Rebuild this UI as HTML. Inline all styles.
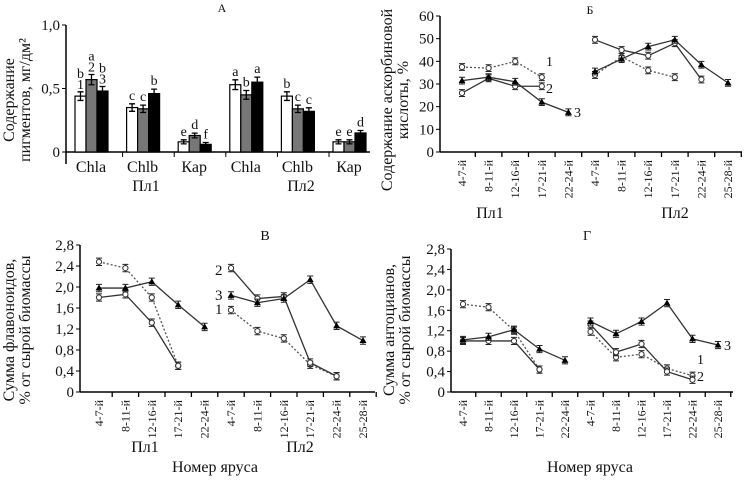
<!DOCTYPE html>
<html><head><meta charset="utf-8"><style>
body{margin:0;background:#fff}
svg{display:block}
svg text{fill:#111;font-family:"Liberation Serif","DejaVu Serif",serif}
</style></head><body>
<svg id="s" width="750" height="484" xmlns="http://www.w3.org/2000/svg" font-family="Liberation Serif, serif"></svg>
<script>
const NS='http://www.w3.org/2000/svg';
const svg=document.getElementById('s');
// ---- Panel A data ----
const aGroups=['Chla','Chlb','Кар','Chla','Chlb','Кар'];
const aSeries1=[0.44,0.35,0.08,0.53,0.44,0.08];
const aSeries2=[0.57,0.34,0.13,0.45,0.34,0.08];
const aSeries3=[0.48,0.46,0.06,0.55,0.32,0.15];
const aLetters=[['b','a','b'],['c','c','b'],['e','d','f'],['a','b','a'],['b','c','c'],['e','e','d']];
const aTicks=['0','0,5','1,0'];
// ---- line panels ----
const cats=['4-7-й','8-11-й','12-16-й','17-21-й','22-24-й','4-7-й','8-11-й','12-16-й','17-21-й','22-24-й','25-28-й'];
const bS1=[37.5,37,40,33,null,34,42,36,33,null,null];
const bS2=[26,32.5,29,29,null,49.5,45,42.5,48,32,null];
const bS3=[31.5,33,31,22,17.5,35.5,41,46.5,49.5,38.5,30.5];
const bTicks=[0,10,20,30,40,50,60];
const cS1=[2.48,2.36,1.8,0.5,null,1.56,1.16,1.02,0.52,0.3,null];
const cS2=[1.8,1.86,1.32,0.5,null,2.36,1.78,1.82,0.56,0.3,null];
const cS3=[1.98,1.98,2.1,1.66,1.24,1.84,1.7,1.78,2.14,1.26,0.98];
const dS1=[1.72,1.66,1.2,0.44,null,1.18,0.68,0.74,0.46,0.32,null];
const dS2=[1.0,1.0,1.0,0.44,null,1.32,0.78,0.94,0.4,0.24,null];
const dS3=[1.02,1.08,1.22,0.84,0.62,1.38,1.14,1.38,1.74,1.04,0.92];
const cdTicks=[0,0.4,0.8,1.2,1.6,2.0,2.4,2.8];

function el(tag,attrs,parent){const e=document.createElementNS(NS,tag);for(const k in attrs)e.setAttribute(k,attrs[k]);(parent||svg).appendChild(e);return e;}
function txt(s,x,y,size,attrs,parent){const t=el('text',Object.assign({x:x,y:y,'font-size':size,'font-family':'Liberation Serif, serif'},attrs||{}),parent);t.textContent=s;return t;}

// ===== Panel A =====
(function(){
 const g=el('g',{});
 
 
 const x0=66,y0=152,y1=25,xEnd=370;
 const yS=v=>y0-(v/1.0)*(y0-y1);
 el('line',{x1:x0,y1:y1,x2:x0,y2:y0+12,stroke:'#000','stroke-width':1.5},g);
 el('line',{x1:x0,y1:y0,x2:xEnd,y2:y0,stroke:'#000','stroke-width':1.5},g);
 [0,0.5,1.0].forEach((v,i)=>{el('line',{x1:x0-4,y1:yS(v),x2:x0,y2:yS(v),stroke:'#000'},g);
  const t=txt(aTicks[i],x0-6,yS(v)+5,15,{'text-anchor':'end'},g);
  });
 const series=[aSeries1,aSeries2,aSeries3];const fills=['#fff','#777','#000'];
 const gw=51.6,bw=11;
 aGroups.forEach((name,gi)=>{
  const gx=75+gi*gw;
  series.forEach((s,si)=>{
   const v=s[gi],x=gx+si*bw,y=yS(v);
   const r=el('rect',{x:x,y:y,width:bw,height:y0-y,fill:fills[si],stroke:'#000','stroke-width':1.2},g);
   
   const cx=x+bw/2,e=v*0.05+0.012;
   el('path',{d:`M${cx} ${yS(v+e)}V${yS(v-e)}M${cx-3} ${yS(v+e)}H${cx+3}M${cx-3} ${yS(v-e)}H${cx+3}`,stroke:'#000','stroke-width':1.3,fill:'none'},g);
   const lt=txt(aLetters[gi][si],cx,yS(v+e)-(gi===0?14:4),14,{'text-anchor':'middle'},g);
   
   if(gi===0){const nt=txt(String(si+1),cx,yS(v+e)-3,14,{'text-anchor':'middle'},g);
    }
  });
  const t=txt(name,gx+16,172,16,{'text-anchor':'middle'},g);
  
  if(gi>0){el('line',{x1:gx-4,y1:y0,x2:gx-4,y2:y0+5,stroke:'#000'},g);}
 });
})();
txt('А',222,12,12,{'text-anchor':'middle',});
txt('Пл1',146,191,16,{'text-anchor':'middle',});
txt('Пл2',301,191,16,{'text-anchor':'middle',});
txt('Содержание',14,100,16,{'text-anchor':'middle',transform:'rotate(-90 14 100)',});
txt('пигментов, мг/дм²',30,100,16,{'text-anchor':'middle',transform:'rotate(-90 30 100)',});

// ===== Line panels =====
function lineChart(o){
 const g=el('g',{});
 
 
 const yS=v=>o.y0-(v/o.max)*(o.y0-o.y1);
 const xS=i=>o.c0+i*o.dx;
 el('line',{x1:o.x0,y1:o.y1,x2:o.x0,y2:o.y0,stroke:'#000','stroke-width':1.5},g);
 el('line',{x1:o.x0,y1:o.y0,x2:o.xEnd,y2:o.y0,stroke:'#000','stroke-width':1.5},g);
 o.ticks.forEach((v,i)=>{el('line',{x1:o.x0-4,y1:yS(v),x2:o.x0,y2:yS(v),stroke:'#000'},g);
  const t=txt(o.tickLabels[i],o.x0-6,yS(v)+5,15,{'text-anchor':'end'},g);
  });
 cats.forEach((c,i)=>{
  el('line',{x1:xS(i)+o.dx/2,y1:o.y0,x2:xS(i)+o.dx/2,y2:o.y0+5,stroke:'#000','stroke-width':1.3},g);
  const tx=xS(i)+4,ty=o.y0+8;
  const t=txt(c,tx,ty,12,{'text-anchor':'end',transform:`rotate(-90 ${tx} ${ty})`},g);
  
 });
 const styles=[{dash:'2,2',mark:'circle'},{dash:'',mark:'circle'},{dash:'',mark:'tri'}];
 [o.s1,o.s2,o.s3].forEach((s,si)=>{
  const st=styles[si];
  [[0,5],[5,11]].forEach(([a,b])=>{
   let d='';for(let i=a;i<b;i++){if(s[i]==null)continue;d+=(d?'L':'M')+xS(i)+' '+yS(s[i]);}
   const p=el('path',{d:d,fill:'none',stroke:si===0?'#555':'#333','stroke-width':1.3,'stroke-dasharray':st.dash},g);
   
  });
  s.forEach((v,i)=>{
   if(v==null)return;const x=xS(i),y=yS(v),e=o.max*0.025;
   el('path',{d:`M${x} ${yS(v+e)}V${yS(v-e)}M${x-3} ${yS(v+e)}H${x+3}M${x-3} ${yS(v-e)}H${x+3}`,stroke:'#222','stroke-width':1},g);
   let m;
   if(st.mark==='circle')m=el('circle',{cx:x,cy:y,r:2.6,fill:'#fff',stroke:'#333','stroke-width':1},g);
   else m=el('path',{d:`M${x} ${y-3.5}L${x+3.5} ${y+2.5}L${x-3.5} ${y+2.5}Z`,fill:'#000'},g);
   
  });
 });
 return g;
}
const bLabels=bTicks.map(String);
const cdLabels=cdTicks.map(v=>v===0?'0':v.toFixed(1).replace('.',','));
lineChart({name:'panel-b-ascorbic',x0:440,y0:152,y1:16,max:60,xEnd:742,c0:462,dx:26.6,ticks:bTicks,tickLabels:bLabels,s1:bS1,s2:bS2,s3:bS3});
lineChart({name:'panel-c-flavonoids',x0:80,y0:392,y1:245,max:2.8,xEnd:375,c0:99,dx:26.4,ticks:cdTicks,tickLabels:cdLabels,s1:cS1,s2:cS2,s3:cS3});
lineChart({name:'panel-d-anthocyanins',x0:451,y0:392,y1:249,max:2.8,xEnd:733,c0:463,dx:25.5,ticks:cdTicks,tickLabels:cdLabels,s1:dS1,s2:dS2,s3:dS3});

const L=(s,x,y,size,name,extra)=>txt(s,x,y,size,Object.assign({},extra||{}));
L('Б',590,14,12,'panel-b-title',{'text-anchor':'middle'});
L('В',265,240,14,'panel-c-title',{'text-anchor':'middle'});
L('Г',587,240,14,'panel-d-title',{'text-anchor':'middle'});
L('1',546,66,14,'series-1-label');L('2',546,93,14,'series-2-label');L('3',574,117,14,'series-3-label');
L('2',215,275,15,'series-2-label');L('3',215,300,15,'series-3-label');L('1',215,314,15,'series-1-label');
L('1',697,364,14,'series-1-label');L('2',697,381,14,'series-2-label');L('3',724,350,14,'series-3-label');
L('Пл1',490,218,16,'group-pl1',{'text-anchor':'middle'});L('Пл2',675,218,16,'group-pl2',{'text-anchor':'middle'});
L('Пл1',145,452,16,'group-pl1',{'text-anchor':'middle'});L('Пл2',300,452,16,'group-pl2',{'text-anchor':'middle'});
L('Номер яруса',215,472,16,'x-axis-title',{'text-anchor':'middle'});
L('Номер яруса',590,472,16,'x-axis-title',{'text-anchor':'middle'});
L('Содержание аскорбиновой',392,100,16,'y-axis-title-line1',{'text-anchor':'middle',transform:'rotate(-90 392 100)'});
L('кислоты, %',408,100,16,'y-axis-title-line2',{'text-anchor':'middle',transform:'rotate(-90 408 100)'});
L('Сумма флавоноидов,',14,330,16,'y-axis-title-line1',{'text-anchor':'middle',transform:'rotate(-90 14 330)'});
L('% от сырой биомассы',30,330,16,'y-axis-title-line2',{'text-anchor':'middle',transform:'rotate(-90 30 330)'});
L('Сумма антоцианов,',394,330,16,'y-axis-title-line1',{'text-anchor':'middle',transform:'rotate(-90 394 330)'});
L('% от сырой биомассы',410,330,16,'y-axis-title-line2',{'text-anchor':'middle',transform:'rotate(-90 410 330)'});
</script>
</body></html>
